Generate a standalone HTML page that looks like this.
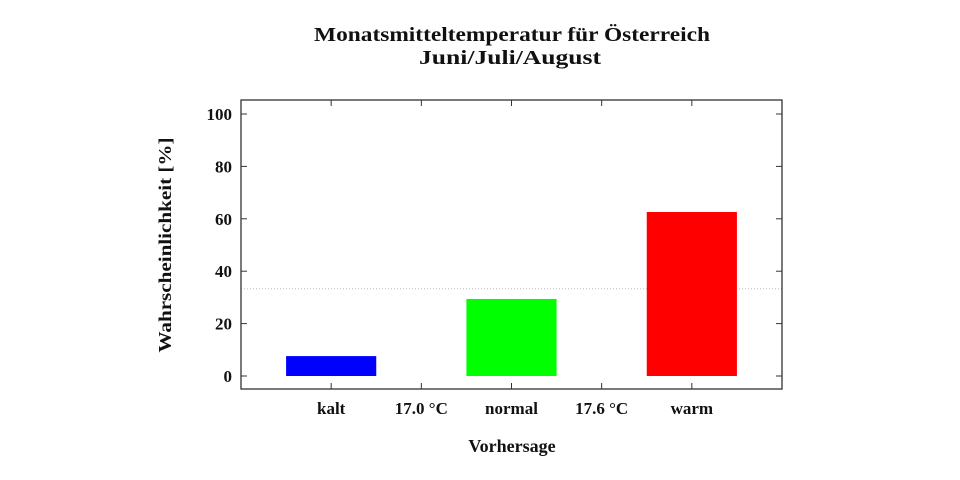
<!DOCTYPE html>
<html><head><meta charset="utf-8"><style>
html,body{margin:0;padding:0;background:#fff;width:960px;height:480px;overflow:hidden}
text{font-family:"Liberation Serif",serif;font-weight:bold;fill:#111}
</style></head><body>
<svg id="chart" width="960" height="480" xmlns="http://www.w3.org/2000/svg">
<text x="512" y="41" font-size="20" text-anchor="middle" textLength="396" lengthAdjust="spacingAndGlyphs">Monatsmitteltemperatur für Österreich</text>
<text x="510" y="64" font-size="20" text-anchor="middle" textLength="182" lengthAdjust="spacingAndGlyphs">Juni/Juli/August</text>
<g id="plot"></g>
<text x="512" y="452" font-size="18" text-anchor="middle">Vorhersage</text>
<text transform="translate(171,245) rotate(-90)" font-size="18" text-anchor="middle" textLength="215" lengthAdjust="spacingAndGlyphs">Wahrscheinlichkeit [%]</text>
</svg>
<script>
const tickLabels = ["kalt","17.0 °C","normal","17.6 °C","warm"];
const barCategories = ["kalt","normal","warm"];
const barPositions = [1,3,5];
const barValues = [7.6,29.4,62.6];
const barColors = ["#0000ff","#00ff00","#ff0000"];
const yTicks = [0,20,40,60,80,100];
const refLine = 33.3;

const L=241,R=782,T=100,B=389;
const x=v=>L+(v)*(R-L)/6;
const y=v=>376-v*2.62;
const ns="http://www.w3.org/2000/svg";
const g=document.getElementById('plot');
function mk(t,a){const e=document.createElementNS(ns,t);for(const k in a)e.setAttribute(k,a[k]);g.appendChild(e);return e;}

const ref=mk('line',{x1:L,x2:R,y1:y(refLine),y2:y(refLine),stroke:'#bbb','stroke-width':1,'stroke-dasharray':'1,2'});



barValues.forEach((v,i)=>{
  const r=mk('rect',{x:x(barPositions[i]-0.5),y:y(v),width:x(1)-x(0),height:y(0)-y(v),fill:barColors[i]});
  
  
});

const frame=mk('rect',{x:L,y:T,width:R-L,height:B-T,fill:'none',stroke:'#333','stroke-width':1.3});



yTicks.forEach(v=>{
  mk('line',{x1:L,x2:L+6,y1:y(v),y2:y(v),stroke:'#333'});
  mk('line',{x1:R,x2:R-6,y1:y(v),y2:y(v),stroke:'#333'});
  const t=mk('text',{x:L-9,y:y(v)+6,'font-size':17,'text-anchor':'end'});
  t.textContent=v;
  
  
});
tickLabels.forEach((s,i)=>{
  const xv=x(i+1);
  mk('line',{x1:xv,x2:xv,y1:B,y2:B-6,stroke:'#333'});
  mk('line',{x1:xv,x2:xv,y1:T,y2:T+6,stroke:'#333'});
  const t=mk('text',{x:xv,y:414,'font-size':17,'text-anchor':'middle'});
  t.textContent=s;
  
  
});
</script>
</body></html>
